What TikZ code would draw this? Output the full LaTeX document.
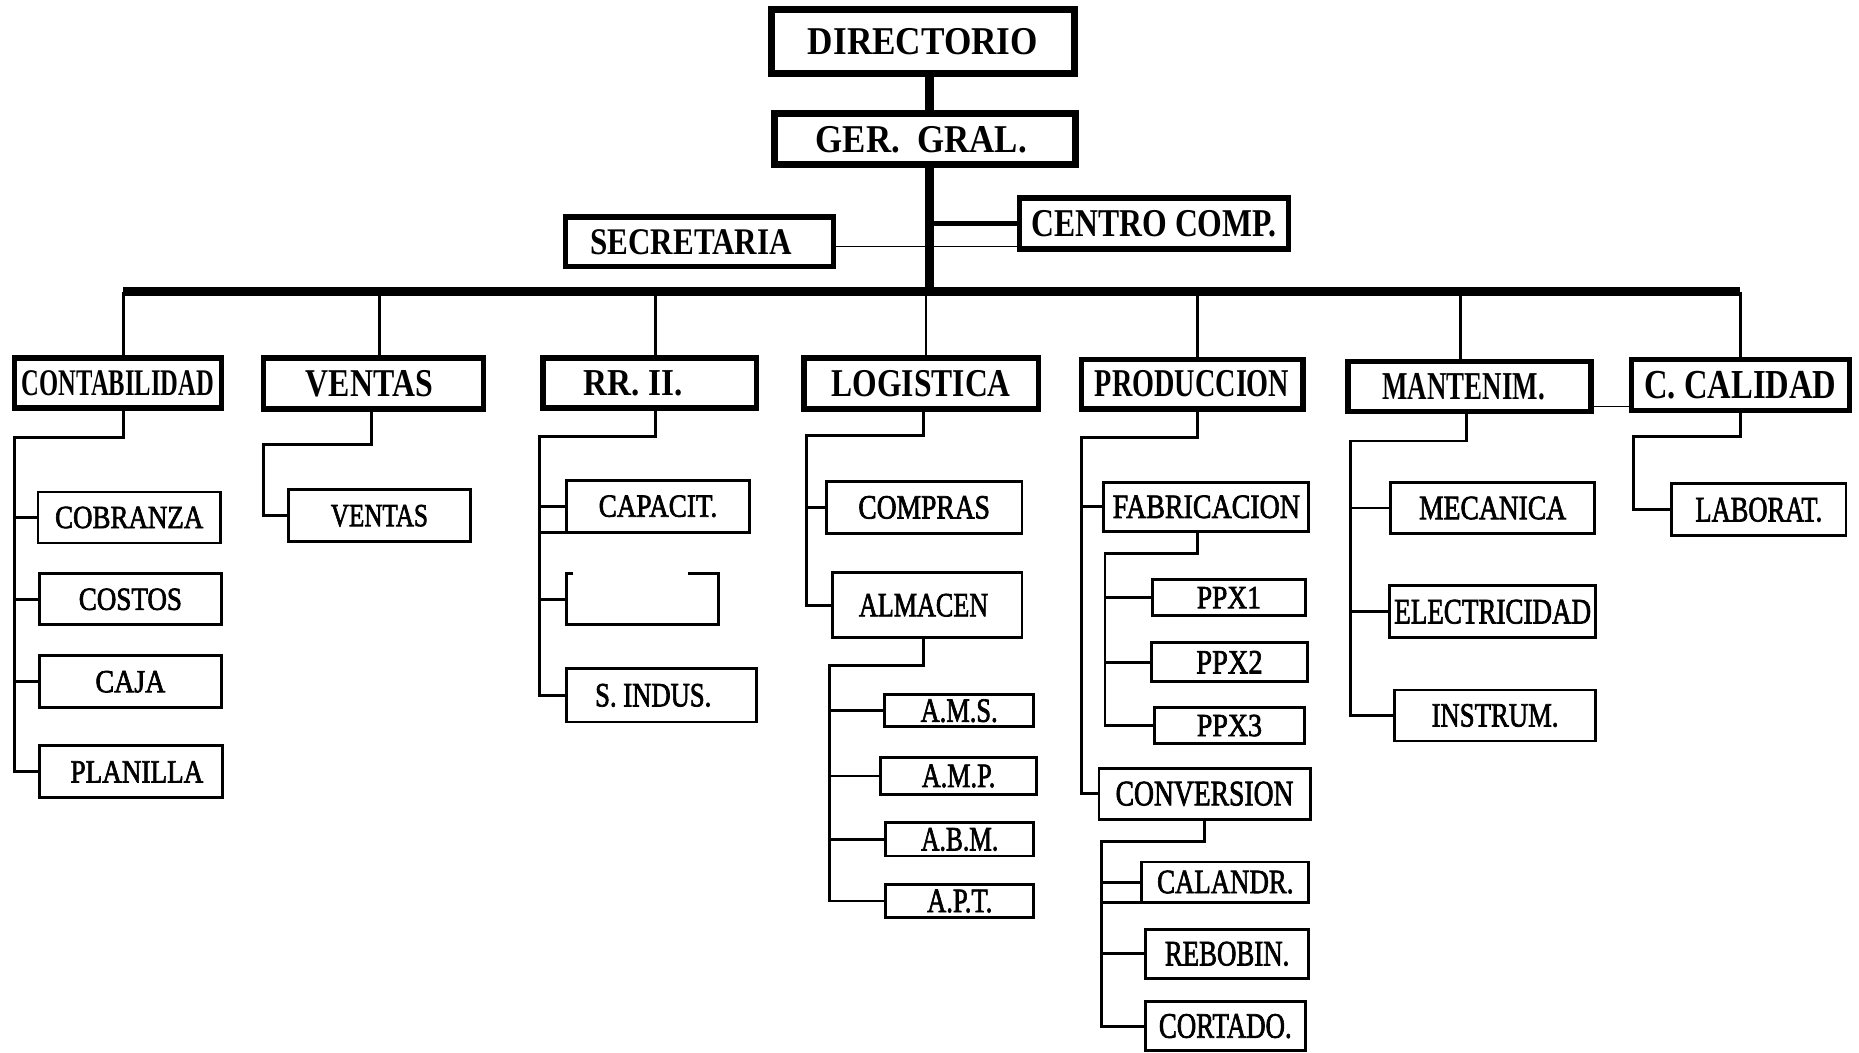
\documentclass[tikz,border=0pt]{standalone}
\usepackage{fontspec}
\setmainfont{Liberation Serif}
% regular face with a heavier stroke for the section labels
\newfontfamily\secfont{Liberation Serif}[BoldFont={Liberation Serif},BoldFeatures={FakeBold=2.2}]
\usepackage{graphicx}
% text squeezed to a given width and cap height
\newcommand\ft[3]{\resizebox{#1pt}{#2pt}{#3}}
% box node given by its corners: style, name, x1, y1, x2, y2, text
\newcommand\orgbox[7]{\node[#1,minimum width={(#5-#3)*1pt},minimum height={(#6-#4)*1pt}] (#2) at ({(#3+#5)/2},{(#4+#6)/2}) {#7};}
\newcommand\st[3]{\ft{#1}{#2}{\secfont\bfseries #3}}
\newcommand\dt[3]{\ft{#1}{#2}{\bfseries #3}}

\begin{document}
\begin{tikzpicture}[x=1pt,y=-1pt,
  box/.style={draw,inner sep=0pt,outer sep=0pt,fill=white},
  topbox/.style={box,line width=6pt},
  deptbox/.style={box,line width=4.5pt},
  subbox/.style={box,line width=2.4pt},
  conn/.style={line width=2.4pt},
  hair/.style={line width=1.3pt},
  trunk/.style={line width=7pt},
  busline/.style={line width=8pt}]
\fill[white] (0,0) rectangle (1568,888);
\useasboundingbox (0,0) rectangle (1568,888);

% top management
\orgbox{topbox}{dir}{651}{8}{906}{62}{\dt{194}{22}{DIRECTORIO}}
\orgbox{topbox}{gg}{653}{96}{907}{139}{\dt{178}{22}{GER.\ \ GRAL.}\kern6pt}
\orgbox{deptbox}{secr}{477}{183}{703}{225}{\dt{170}{21}{SECRETARIA}\kern14pt}
\orgbox{deptbox}{cc}{860}{167}{1087}{210}{\dt{207}{22}{CENTRO COMP.}}

% departments
\orgbox{deptbox}{contab}{12}{302}{187}{344}{\dt{162}{21}{CONTABILIDAD}}
\orgbox{deptbox}{vent}{222}{302}{408}{345}{\dt{107}{22}{VENTAS}\kern7pt}
\orgbox{deptbox}{rrii}{458}{302}{638}{344}{\dt{83}{21}{RR. II.}\kern28pt}
\orgbox{deptbox}{logi}{678}{302}{876}{345}{\dt{151}{22}{LOGISTICA}}
\orgbox{deptbox}{prod}{912}{303}{1099}{345}{\dt{164}{22}{PRODUCCION}}
\orgbox{deptbox}{mant}{1137}{305}{1342}{347}{\dt{137}{22}{MANTENIM.}\kern10pt}
\orgbox{deptbox}{ccal}{1376}{303}{1560}{346}{\dt{162}{23}{C. CALIDAD}}

% sections
\orgbox{subbox}{cobr}{32}{415}{186}{458}{\st{125}{18}{COBRANZA}}
\orgbox{subbox}{cost}{33}{484}{187}{527}{\st{87}{18}{COSTOS}}
\orgbox{subbox}{caja}{33}{553}{187}{597}{\st{59}{18}{CAJA}}
\orgbox{subbox}{plan}{33}{629}{188}{673}{\kern10pt\st{112}{18}{PLANILLA}}
\orgbox{subbox}{vsub}{243}{413}{397}{457}{\st{82}{18}{VENTAS}}
\orgbox{subbox}{capa}{478}{405}{632}{449}{\st{100}{18}{CAPACIT.}}
\orgbox{box,draw=none,fill=none}{blank}{478}{484}{606}{527}{}
\orgbox{subbox}{sind}{478}{564}{638}{609}{\st{98}{19}{S. INDUS.}\kern14pt}
\orgbox{subbox}{comp}{697}{406}{862}{450}{\st{111}{19}{COMPRAS}}
\orgbox{subbox}{alma}{702}{483}{862}{538}{\st{109}{19}{ALMACEN}\kern6pt}
\orgbox{subbox}{ams}{746}{586}{872}{613}{\st{65}{19}{A.M.S.}}
\orgbox{subbox}{amp}{743}{639}{874}{670}{\st{62}{19}{A.M.P.}}
\orgbox{subbox}{abm}{747}{694}{872}{722}{\st{65}{19}{A.B.M.}}
\orgbox{subbox}{apt}{747}{746}{872}{774}{\st{55}{19}{A.P.T.}}
\orgbox{subbox}{fabr}{931}{407}{1104}{448}{\st{158}{19}{FABRICACION}}
\orgbox{subbox}{ppxa}{972}{489}{1101}{519}{\st{54}{18}{PPX1}}
\orgbox{subbox}{ppxb}{971}{542}{1103}{575}{\st{56}{19}{PPX2}}
\orgbox{subbox}{ppxc}{974}{597}{1100}{627}{\st{55}{18}{PPX3}}
\orgbox{subbox}{conv}{927}{648}{1105}{691}{\st{150}{20}{CONVERSION}}
\orgbox{subbox}{cala}{963}{727}{1104}{761}{\st{115}{19}{CALANDR.}}
\orgbox{subbox}{rebo}{966}{784}{1104}{825}{\st{105}{20}{REBOBIN.}}
\orgbox{subbox}{cort}{966}{845}{1101}{886}{\st{112}{20}{CORTADO.}}
\orgbox{subbox}{meca}{1173}{407}{1345}{450}{\st{124}{19}{MECANICA}}
\orgbox{subbox}{elec}{1172}{494}{1346}{538}{\st{166}{20}{ELECTRICIDAD}}
\orgbox{subbox}{inst}{1176}{582}{1346}{625}{\st{107}{19}{INSTRUM.}}
\orgbox{subbox}{labo}{1410}{408}{1557}{452}{\st{107}{20}{LABORAT.}}

% box with a broken top edge
\draw[conn] ([xshift=5pt]blank.north west) -- (blank.north west) -- (blank.south west)
  -- (blank.south east) -- (blank.north east) -- ([xshift=-26pt]blank.north east);

% trunk and main bus
\draw[trunk] (784,0 |- dir.south) -- (784,0 |- gg.north);
\draw[trunk] (784,0 |- gg.south) -- (784,246);
\draw[busline] (104,246) -- (1468,246);
\draw[hair] (secr.east |- 0,208) -- (cc.west |- 0,208);
\draw[line width=4pt] (784,0 |- cc.west) -- (cc.west);

% drops from the bus
\draw[conn] (104,246) -- (104,0 |- contab.north);
\draw[conn] (320,246) -- (320,0 |- vent.north);
\draw[conn] (553,246) -- (553,0 |- rrii.north);
\draw[conn] (781,246) -- (781,0 |- logi.north);
\draw[conn] (1010,246) -- (1010,0 |- prod.north);
\draw[conn] (1232,246) -- (1232,0 |- mant.north);
\draw[conn] (1468,246) -- (1468,0 |- ccal.north);
\draw[hair] (mant.east |- 0,343) -- (ccal.west |- 0,343);

% CONTABILIDAD
\draw[conn] (104,0 |- contab.south) |- (12,369) |- (plan.west);
\foreach \n in {cobr,cost,caja} \draw[conn] (12,0 |- \n.west) -- (\n.west);

% VENTAS
\draw[conn] (313,0 |- vent.south) |- (222,375) |- (vsub.west);

% RR. II.
\draw[conn] (553,0 |- rrii.south) |- (455,368) |- (sind.west);
\foreach \n in {capa,blank} \draw[conn] (455,0 |- \n.west) -- (\n.west);
\draw[conn] (455,0 |- capa.south) -- (capa.south west);

% LOGISTICA
\draw[conn] (779,0 |- logi.south) |- (680,367) |- (alma.west);
\draw[conn] (680,0 |- comp.west) -- (comp.west);
\draw[conn] (779,0 |- alma.south) |- (700,561) |- (apt.west);
\foreach \n in {ams,amp,abm} \draw[conn] (700,0 |- \n.west) -- (\n.west);

% PRODUCCION
\draw[conn] (1010,0 |- prod.south) |- (912,369) |- (conv.west);
\draw[conn] (912,0 |- fabr.west) -- (fabr.west);
\draw[conn] (1010,0 |- fabr.south) |- (932,467) |- (ppxc.west);
\foreach \n in {ppxa,ppxb} \draw[conn] (932,0 |- \n.west) -- (\n.west);
\draw[conn] (1016,0 |- conv.south) |- (929,710) |- (cort.west);
\foreach \n in {cala,rebo} \draw[conn] (929,0 |- \n.west) -- (\n.west);
\draw[conn] (929,0 |- cala.south) -- (cala.south west);

% MANTENIM.
\draw[conn] (1237,0 |- mant.south) |- (1139,372) |- (inst.west);
\foreach \n in {meca,elec} \draw[conn] (1139,0 |- \n.west) -- (\n.west);

% C. CALIDAD
\draw[conn] (1468,0 |- ccal.south) |- (1378,368) |- (labo.west);
\end{tikzpicture}
\end{document}
